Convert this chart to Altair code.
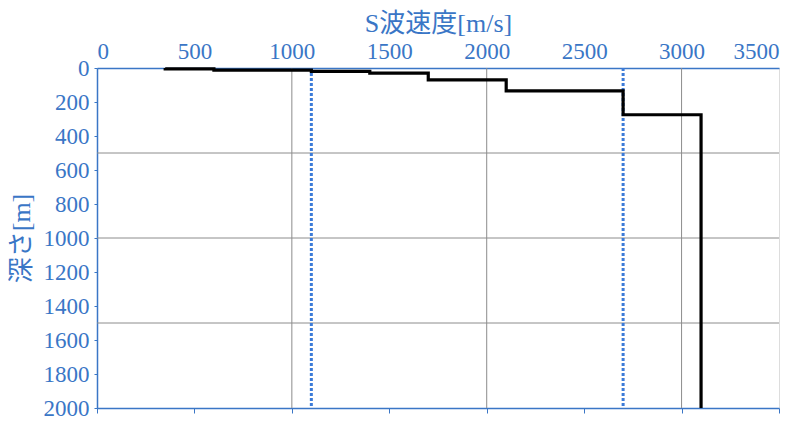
import altair as alt
import pandas as pd

# Layered S-wave velocity profile (velocity of each layer, depth of each layer boundary)
layer_vs = [350, 600, 1100, 1400, 1700, 2100, 2700, 3100]
boundary_depth = [5, 12, 20, 30, 70, 135, 275]
bottom_depth = 2000

# dotted reference velocities
ref_vs = [1100, 2700]

x_ticks = [0, 500, 1000, 1500, 2000, 2500, 3000, 3500]
y_ticks = [0, 200, 400, 600, 800, 1000, 1200, 1400, 1600, 1800, 2000]
grid_x = [1000, 2000, 3000]
grid_y = [500, 1000, 1500]

BLUE = "#3a76c6"
FONT = "Liberation Serif, Noto Sans CJK JP"

# build step line
pts_v, pts_d = [layer_vs[0]], [0]
for i, d in enumerate(boundary_depth):
    pts_v += [layer_vs[i], layer_vs[i + 1]]
    pts_d += [d, d]
pts_v.append(layer_vs[-1])
pts_d.append(bottom_depth)
line_df = pd.DataFrame({"vs": pts_v, "depth": pts_d, "order": list(range(len(pts_v)))})

xscale = alt.Scale(domain=[0, 3500], nice=False, zero=False)
yscale = alt.Scale(domain=[0, 2000], reverse=True, nice=False)

gx_df = pd.DataFrame({"vs": grid_x, "d0": 0, "d1": bottom_depth})
gy_df = pd.DataFrame({"depth": grid_y, "v0": 0, "v1": 3500})
ref_df = pd.DataFrame({"vs": ref_vs, "d0": 0, "d1": bottom_depth})

yaxis = alt.Axis(orient="left", values=y_ticks, format="d", title="深さ[m]",
                 grid=False, labelOverlap=False,
                 tickSize=3, tickColor=BLUE, labelPadding=5,
                 domainColor=BLUE, domainWidth=1.5,
                 labelColor=BLUE, labelFont=FONT, labelFontSize=23,
                 titleColor=BLUE, titleFont=FONT, titleFontSize=26,
                 titleFontWeight="normal", titleX=-76, titleY=170,
                 titleAngle=270, titleBaseline="middle", titleAlign="center")

grid_v = alt.Chart(gx_df).mark_rule(color="#8c8c8c", strokeWidth=1).encode(
    x=alt.X("vs:Q", scale=xscale,
            axis=alt.Axis(orient="bottom", values=x_ticks, labels=False, title=None,
                          grid=False, domainColor=BLUE, domainWidth=1.5,
                          tickColor=BLUE, tickSize=5)),
    y=alt.Y("d0:Q", scale=yscale, axis=yaxis),
    y2="d1:Q",
)
grid_h = alt.Chart(gy_df).mark_rule(color="#8c8c8c", strokeWidth=1).encode(
    y=alt.Y("depth:Q", scale=yscale, axis=yaxis),
    x=alt.X("v0:Q", scale=xscale, axis=None),
    x2="v1:Q",
)
ref = alt.Chart(ref_df).mark_rule(color="#3c7bd8", strokeWidth=3, strokeDash=[3, 2]).encode(
    x=alt.X("vs:Q", scale=xscale, axis=None),
    y=alt.Y("d0:Q", scale=yscale, axis=yaxis),
    y2="d1:Q",
)
line = alt.Chart(line_df).mark_line(color="black", strokeWidth=3.2, strokeJoin="miter").encode(
    x=alt.X("vs:Q", scale=xscale,
            axis=alt.Axis(orient="top", values=x_ticks, format="d", title="S波速度[m/s]",
                          grid=False, ticks=False, labelPadding=5, labelOverlap=False,
                          domainColor=BLUE, domainWidth=1.5,
                          labelColor=BLUE, labelFont=FONT, labelFontSize=23,
                          titleColor=BLUE, titleFont=FONT, titleFontSize=26,
                          titleFontWeight="normal", titleX=341, titleY=-45,
                          titleBaseline="middle")),
    y=alt.Y("depth:Q", scale=yscale, axis=yaxis),
    order="order:Q",
)

chart = alt.layer(grid_v, grid_h, ref, line).properties(
    width=682, height=340,
    autosize=alt.AutoSizeParams(type="none"),
    padding={"left": 89, "top": 60, "right": 20, "bottom": 16},
).configure_view(stroke=None).configure(background="white")

chart.save("out.html", embed_options={"renderer": "svg", "actions": False})
